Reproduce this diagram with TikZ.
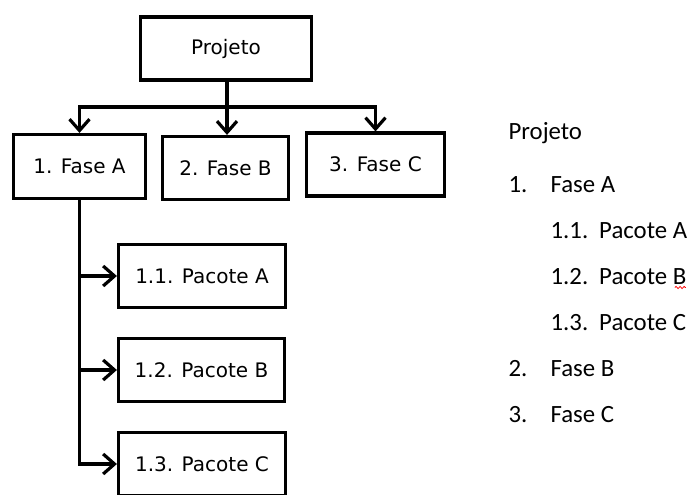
\documentclass[tikz,border=0pt]{standalone}
\usepackage{fontspec}
\setmainfont{DejaVu Sans}
\newfontfamily\listfont{Carlito}
\usetikzlibrary{positioning,arrows.meta,decorations.pathmorphing}

\newcommand{\numA}[1]{\makebox[31.5pt][l]{#1}}
\newcommand{\numB}[1]{\makebox[36.5pt][l]{#1}}

\begin{document}
\begin{tikzpicture}[x=0.75pt, y=-0.75pt, line width=2.4pt,
                >={Straight Barb[length=8.5pt, width=15pt]},
                box/.style={draw, rectangle, font=\fontsize{15}{18}\selectfont},
                entry/.style={anchor=base west, inner sep=0pt, font=\listfont\fontsize{18.6}{22}\selectfont}]
                \useasboundingbox (0,0) rectangle (690,494);

                % estrutura analitica
                \node[box, minimum width=128.25pt, minimum height=47.25pt] at (226,48.5) (proj) {Projeto};
                \node[box, minimum width=99pt, minimum height=48pt] at (79.5,166.5) (faseA) {1. Fase A};
                \node[box, minimum width=94.5pt, minimum height=47.25pt] at (225.5,168) (faseB) {2. Fase B};
                \node[box, minimum width=103.5pt, minimum height=47.25pt] at (375.5,164.5) (faseC) {3. Fase C};
                \node[box, minimum width=125.25pt, minimum height=47.25pt] at (202,276) (pacA) {1.1. Pacote A};
                \node[box, minimum width=124.5pt, minimum height=47.25pt] at (201.5,370) (pacB) {1.2. Pacote B};
                \node[box, minimum width=125.25pt, minimum height=47.25pt] at (202,464) (pacC) {1.3. Pacote C};

                \coordinate (split) at (227,107);
                \draw (proj.south -| split) -- (split);
                \draw [->] (split) -| (faseA);
                \draw [->] (split) -- (split |- faseB.north);
                \draw [->] (split) -| (faseC);

                \draw [->] (faseA.south) |- (pacA);
                \draw [->] (faseA.south) |- (pacB);
                \draw [->] (faseA.south) |- (pacC);

                % lista numerada
                \node[entry] at (507,139) (lProj) {Projeto};
                \node[entry] at (507,192) (lFaseA) {\numA{1.}Fase A};
                \node[entry] at (549,238) (lPacA) {\numB{1.1.}Pacote A};
                \node[entry] at (549,284) (lPacB) {\numB{1.2.}Pacote B};
                \node[entry] at (549,330) (lPacC) {\numB{1.3.}Pacote C};
                \node[entry] at (507,376) (lFaseB) {\numA{2.}Fase B};
                \node[entry] at (507,422) (lFaseC) {\numA{3.}Fase C};

                \draw[red, line width=0.6pt, decorate,
                      decoration={snake, amplitude=0.8pt, segment length=3pt}]
                      (lPacB.base east) ++(-13,3.5) -- ++(11,0);
            \end{tikzpicture}
\end{document}
